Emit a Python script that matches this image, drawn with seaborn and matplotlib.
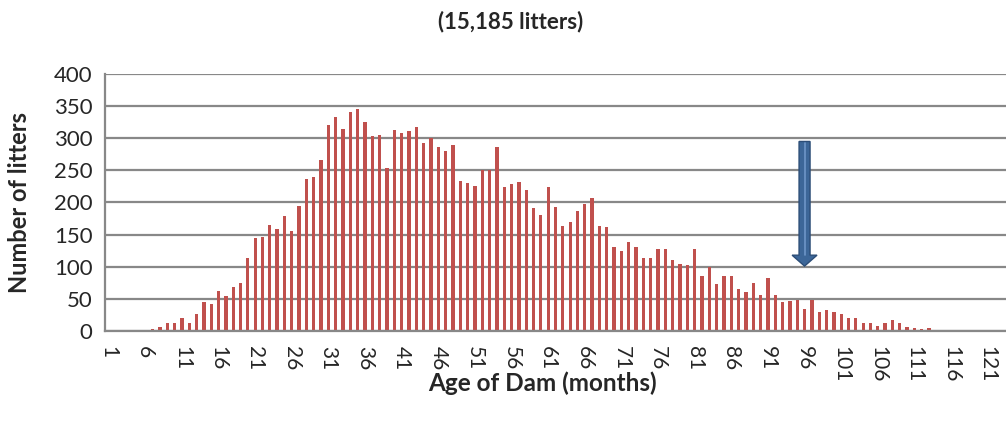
import matplotlib
matplotlib.use("Agg")
import matplotlib.pyplot as plt
import seaborn as sns
import pandas as pd

# age of dam in months (1..123), litters counted per month
months = list(range(1, 124))
litters = [
    0, 0, 0, 1, 2, 1, 3, 6, 12, 13,            # 1-10
    20, 12, 27, 45, 42, 63, 54, 68, 74, 114,   # 11-20
    145, 147, 165, 159, 179, 156, 194, 237, 239, 266,  # 21-30
    320, 333, 314, 341, 346, 326, 303, 305, 254, 313,  # 31-40
    308, 311, 317, 292, 301, 286, 280, 289, 234, 230,  # 41-50
    225, 251, 250, 286, 224, 229, 232, 220, 191, 181,  # 51-60
    224, 193, 164, 170, 187, 197, 207, 163, 162, 131,  # 61-70
    124, 139, 131, 114, 114, 128, 128, 111, 104, 103,  # 71-80
    128, 85, 100, 73, 85, 85, 65, 60, 74, 56,          # 81-90
    83, 56, 45, 47, 49, 35, 48, 30, 32, 30,            # 91-100
    26, 20, 20, 13, 13, 8, 13, 17, 13, 6,              # 101-110
    5, 3, 5, 0, 0, 2, 2, 2, 2, 0,                      # 111-120
    1, 0, 1,                                           # 121-123
]
tick_months = months[::5]

df = pd.DataFrame({"Age": [str(m) for m in months], "Litters": litters})

sns.set_style("white")
plt.rcParams["font.family"] = ["Lato", "DejaVu Sans"]

fig = plt.figure(figsize=(10.06, 4.22), dpi=100)
ax = fig.add_axes([105 / 1006, 91 / 422, 901 / 1006, 257 / 422])

sns.barplot(data=df, x="Age", y="Litters", order=df["Age"], color="#C0504D",
            saturation=1, width=0.45, linewidth=0, ax=ax)

# arrow pointing down at 96 months
ax.arrow(95, 295, 0, -194, width=1.5, head_width=3.4, head_length=17,
         length_includes_head=True, facecolor="#3C6698", edgecolor="#2C4D77",
         linewidth=1, zorder=5)
ax.plot([95, 95], [292, 118], color="#6E96C8", lw=1.2, zorder=6)

ax.set_ylim(0, 400)
ax.set_xlim(-0.5, len(months) - 0.5)
ax.set_yticks(range(0, 401, 50))
ax.set_xticks([m - 1 for m in tick_months])
ax.set_xticklabels([str(m) for m in tick_months], rotation=270, fontsize=15)
ax.tick_params(axis="y", labelsize=16, length=4, color="#888888", pad=5)
ax.tick_params(axis="x", length=0, pad=11)

ax.yaxis.grid(True, color="#888888", linewidth=1.6)
ax.set_axisbelow(True)
for side in ["top", "right"]:
    ax.spines[side].set_visible(False)
for side in ["left", "bottom"]:
    ax.spines[side].set_color("#888888")
    ax.spines[side].set_linewidth(1.6)

ax.set_ylabel("Number of litters", fontsize=17, fontweight="bold")
ax.yaxis.set_label_coords(-74 / 901, 0.5)
ax.set_xlabel("Age of Dam (months)", fontsize=17.5, fontweight="bold")
ax.xaxis.set_label_coords((542 - 105) / 901, -40 / 257)

fig.text(511 / 1006, 1 - 22 / 422, "(15,185 litters)", fontsize=16,
         fontweight="bold", ha="center", va="center")

fig.savefig("out.png", dpi=100)
